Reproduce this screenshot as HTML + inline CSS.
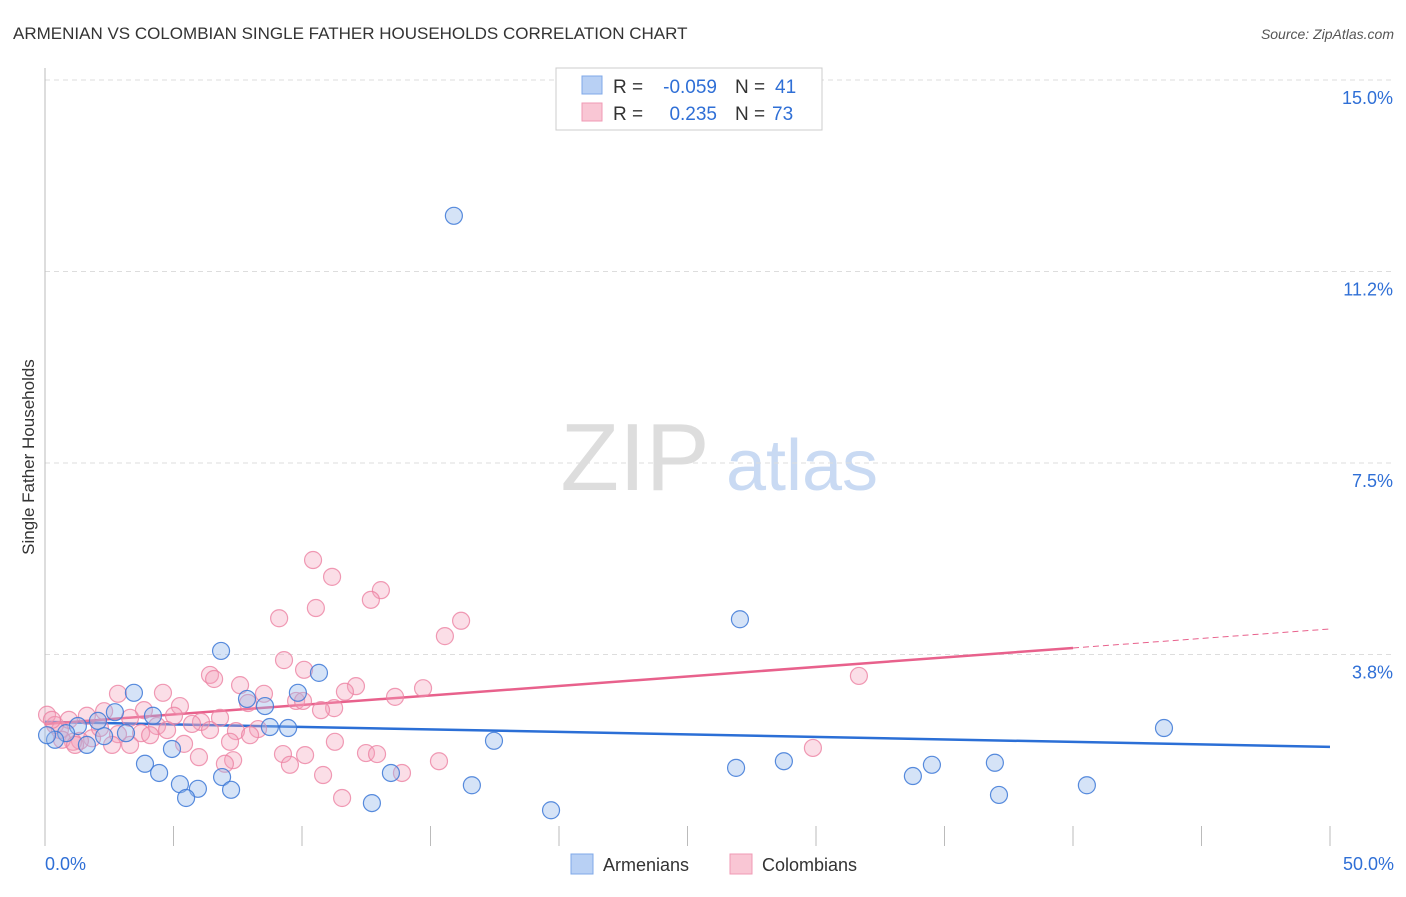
<!DOCTYPE html>
<html><head><meta charset="utf-8"><style>
body{margin:0;background:#fff;font-family:"Liberation Sans",sans-serif;}
svg text{font-family:"Liberation Sans",sans-serif;}
</style></head><body>
<svg id="chart" width="1406" height="892" xmlns="http://www.w3.org/2000/svg">
<text x="13" y="39" font-size="17" fill="#333">ARMENIAN VS COLOMBIAN SINGLE FATHER HOUSEHOLDS CORRELATION CHART</text>
<text x="1394" y="39" font-size="14" fill="#555" font-style="italic" text-anchor="end">Source: ZipAtlas.com</text>
<text transform="translate(34,457) rotate(-90)" font-size="17" fill="#333" text-anchor="middle">Single Father Households</text>
<g><text x="635" y="490" font-size="96" fill="#ddd" font-family="Liberation Serif" text-anchor="middle">ZIP</text><text x="802" y="490" font-size="72" fill="#c9daf3" text-anchor="middle">atlas</text></g>
<g id="grid"></g><g id="axes"></g><g id="trend"></g><g id="pts"></g>
<g>
<rect x="556" y="68" width="266" height="62" fill="#fff" stroke="#ccc"/>
<rect x="582" y="76" width="20" height="18" fill="#b8d0f4" stroke="#7fa8e8"/>
<rect x="582" y="103" width="20" height="18" fill="#f9c6d4" stroke="#f09ab4"/>
<text x="613" y="93" font-size="19" fill="#333">R =</text>
<text x="717" y="93" font-size="19" fill="#2f6fd6" text-anchor="end">-0.059</text>
<text x="735" y="93" font-size="19" fill="#333">N =</text>
<text x="775" y="93" font-size="19" fill="#2f6fd6">41</text>
<text x="613" y="120" font-size="19" fill="#333">R =</text>
<text x="717" y="120" font-size="19" fill="#2f6fd6" text-anchor="end">0.235</text>
<text x="735" y="120" font-size="19" fill="#333">N =</text>
<text x="772" y="120" font-size="19" fill="#2f6fd6">73</text>
</g>
<g>
<rect x="571" y="854" width="22" height="20" fill="#b8d0f4" stroke="#7fa8e8"/>
<text x="603" y="871" font-size="18" fill="#333">Armenians</text>
<rect x="730" y="854" width="22" height="20" fill="#f9c6d4" stroke="#f09ab4"/>
<text x="762" y="871" font-size="18" fill="#333">Colombians</text>
</g>
</svg>
<script>
const yTicks=[15.0,11.25,7.5,3.75];
const yTickLabels=["15.0%","11.2%","7.5%","3.8%"];
const xTickLabels=["0.0%","50.0%"];
const armX=[15.91,27.04,43.54,6.85,10.66,3.46,9.84,7.86,8.56,2.72,4.20,2.06,1.28,8.75,9.46,3.15,2.30,0.82,0.39,1.63,17.47,4.94,3.89,4.44,5.25,5.95,6.89,5.49,7.24,13.46,16.61,12.72,19.69,26.89,28.75,33.77,34.51,36.96,37.12,40.54,0.08];
const armY=[12.34,4.44,2.31,3.82,3.39,3.00,3.00,2.88,2.74,2.62,2.55,2.45,2.35,2.33,2.31,2.21,2.15,2.21,2.08,1.98,2.06,1.90,1.61,1.43,1.21,1.12,1.35,0.94,1.10,1.43,1.19,0.84,0.70,1.53,1.66,1.37,1.59,1.63,1.00,1.19,2.17];
const colX=[10.43,11.17,13.07,12.68,10.54,9.11,16.19,15.56,9.30,10.08,31.67,6.42,6.58,7.59,12.10,14.71,2.84,4.59,8.52,11.67,13.62,9.77,10.04,7.90,5.25,11.25,10.74,3.85,2.30,1.63,3.31,5.02,6.81,6.07,5.72,4.36,4.75,3.74,7.43,8.29,7.98,2.84,1.83,1.36,1.09,2.61,5.41,11.28,29.88,10.12,12.49,12.92,5.99,9.26,7.32,7.00,9.53,15.33,13.89,10.82,11.56,0.08,0.39,0.58,0.66,1.17,0.93,0.27,2.14,4.09,6.42,7.20,3.31];
const colY=[5.60,5.27,5.01,4.82,4.66,4.46,4.41,4.11,3.64,3.45,3.33,3.35,3.27,3.15,3.13,3.09,2.98,3.00,2.98,3.02,2.92,2.84,2.84,2.80,2.74,2.70,2.66,2.66,2.64,2.55,2.51,2.55,2.51,2.43,2.39,2.35,2.27,2.21,2.25,2.29,2.17,2.19,2.11,2.06,2.04,1.98,2.00,2.04,1.92,1.78,1.82,1.80,1.74,1.80,1.68,1.61,1.59,1.66,1.43,1.39,0.94,2.57,2.37,2.27,2.08,1.98,2.47,2.47,2.31,2.17,2.27,2.04,1.98];
const armTrend=[2.43,1.94];
const colTrend=[2.39,4.25];
const sx=v=>45+v*25.7, sy=v=>846-v*51.07;
const NS="http://www.w3.org/2000/svg";
function mk(p,t,a){const e=document.createElementNS(NS,t);for(const k in a)e.setAttribute(k,a[k]);document.getElementById(p).appendChild(e);return e;}
yTicks.forEach((t,i)=>{
 const l=mk('grid','line',{x1:45,x2:1394,y1:sy(t),y2:sy(t),stroke:'#ddd','stroke-dasharray':'5,4'});
 
 
 const tx=mk('grid','text',{x:1393,y:sy(t)+24,'font-size':18,fill:'#2f6fd6','text-anchor':'end'});
 tx.textContent=yTickLabels[i];
 
 
});
const ax=mk('axes','line',{x1:45,x2:45,y1:68,y2:846,stroke:'#bbb'});


for(let i=1;i<=10;i++){const t=mk('axes','line',{x1:sx(i*5),x2:sx(i*5),y1:826,y2:846,stroke:'#bbb'});
 
 }
[[0,'start',45],[50,'end',1394]].forEach((d,i)=>{const t=mk('axes','text',{x:d[2],y:870,'font-size':18,fill:'#2f6fd6','text-anchor':d[1]});t.textContent=xTickLabels[i];
 
 });
const cf=x=>colTrend[0]+(colTrend[1]-colTrend[0])*x/50;
let e=mk('trend','line',{x1:sx(0),y1:sy(armTrend[0]),x2:sx(50),y2:sy(armTrend[1]),stroke:'#2b6fd6','stroke-width':2.5});


e=mk('trend','line',{x1:sx(0),y1:sy(cf(0)),x2:sx(40),y2:sy(cf(40)),stroke:'#e8618c','stroke-width':2.5});


e=mk('trend','line',{x1:sx(40),y1:sy(cf(40)),x2:sx(50),y2:sy(cf(50)),stroke:'#e8618c','stroke-width':1,'stroke-dasharray':'6,4'});


colX.forEach((x,i)=>{const c=mk('pts','circle',{cx:sx(x),cy:sy(colY[i]),r:8.5,fill:'rgba(244,160,186,0.35)',stroke:'rgba(236,130,163,0.8)','stroke-width':1.2});
 
 });
armX.forEach((x,i)=>{const c=mk('pts','circle',{cx:sx(x),cy:sy(armY[i]),r:8.5,fill:'rgba(150,186,236,0.4)',stroke:'rgba(60,120,215,0.85)','stroke-width':1.2});
 
 });
</script>
</body></html>
